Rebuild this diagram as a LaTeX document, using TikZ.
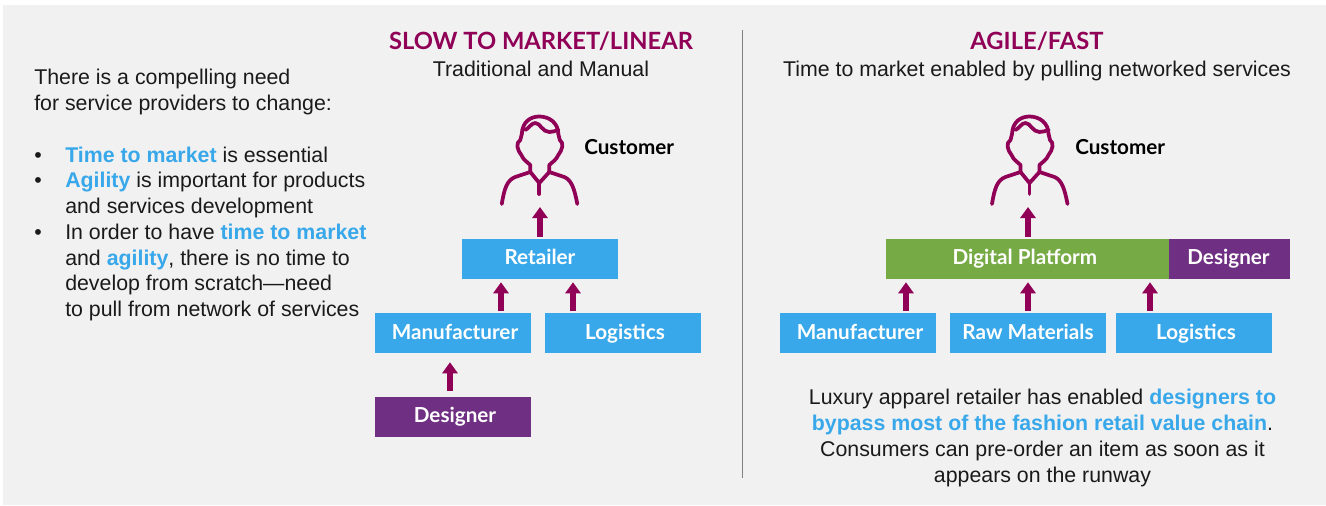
\documentclass[tikz,border=0pt]{standalone}
\usepackage{fontspec}
\setmainfont{Liberation Sans}
\newfontfamily\headfont{Lato}
\usetikzlibrary{arrows.meta,positioning}
\definecolor{panelgray}{HTML}{F1F1F1}
\definecolor{skyblue}{HTML}{38A8EA}
\definecolor{plum}{HTML}{6F2F82}
\definecolor{leafgreen}{HTML}{76AA45}
\definecolor{wine}{HTML}{8F0056}
\definecolor{bodygray}{HTML}{1A1A1A}
\newcommand{\hl}[1]{{\bfseries\color{skyblue}#1}}
\tikzset{
  box/.style={rectangle,minimum width=117pt,minimum height=30pt,inner sep=0pt,text=white,text height=11pt,text depth=3pt,font=\headfont\bfseries\fontsize{15.5}{17}\selectfont},
  bluebox/.style={box,fill=skyblue},
  lowbox/.style={bluebox,text height=12.5pt},
  plumbox/.style={box,fill=plum},
  up/.style={-{Triangle[length=8.25pt,width=11.25pt]},line width=4.5pt,wine,shorten <=1.5pt,shorten >=2.25pt},
  title/.style={inner sep=0pt,text=wine,font=\headfont\bfseries\fontsize{17.8}{20}\selectfont},
  body/.style={inner sep=0pt,text=bodygray,font=\fontsize{16}{19.4}\selectfont},
  who/.style={inner sep=0pt,font=\headfont\bfseries\fontsize{15.5}{17}\selectfont},
  person/.pic={
    \begin{scope}[wine,line width=2.8pt,line cap=round,line join=round]
      \draw (-17.5,34) .. controls (-17,22) and (-9,16.5) .. (0,16.5) .. controls (10,16.5) and (19,23) .. (19,34);
      \draw (-14,30) .. controls (-10,28) and (-8,23) .. (-4,23) .. controls (1,23) and (3,32) .. (10,32) .. controls (13,32) and (16,31) .. (19,30);
      \draw (-17.5,34) -- (-19,40) .. controls (-24,43) and (-22,50) .. (-18,55) .. controls (-16,60) and (-12,62) .. (-9,65) -- (-9,72) -- (-24,77) .. controls (-32,80) and (-35,88) .. (-37.5,104);
      \draw (19,34) -- (20.5,40) .. controls (25,43) and (23,50) .. (19,55) .. controls (17,60) and (13,62) .. (10,65) -- (10,72) -- (25,77) .. controls (32,80) and (35,88) .. (38,104);
      \draw (-9,72) -- (0,83) -- (10,72);
      \draw (0,83) -- (0,94);
    \end{scope}
  },
}
\begin{document}
\begin{tikzpicture}[x=0.75pt,y=-0.75pt]
  \useasboundingbox (0,0) rectangle (1326,506);
  \fill[panelgray] (3,5) rectangle (1326,505);
  % left text
  \node[body,align=left,anchor=north west] (intro) at (34,69) {There is a compelling need\\for service providers to change:};
  \node[body,anchor=base west] (dota) at (34,162.5) {•};
  \node[body,anchor=base west] (dotb) at (34,187.5) {•};
  \node[body,anchor=base west] (dotc) at (34,239) {•};
  \node[body,anchor=base west] (pta) at (65,162.5) {\hl{Time to market} is essential};
  \node[body,align=left,anchor=north west] (ptb) at (65,172) {\hl{Agility} is important for products\\and services development};
  \node[body,align=left,anchor=north west] (ptc) at (65,223.5) {In order to have \hl{time to market}\\and \hl{agility}, there is no time to\\develop from scratch—need\\to pull from network of services};
  % left column
  \node[title] (slow) at (541,41) {SLOW TO MARKET/LINEAR};
  \node[body,anchor=base] (trad) at (541,77) {Traditional and Manual};
  \pic (custa) at (539.3,100) {person};
  \node[who,anchor=west] (cna) at (584,147) {Customer};
  \node[bluebox] (ret) at (540,259) {Retailer};
  \node[lowbox] (man) at (453,333) {\kern3pt Manufacturer};
  \node[lowbox] (loga) at (623,333) {\kern3pt Logistics};
  \node[plumbox] (desa) at (453,417) {\kern3pt Designer};
  \coordinate (custafoot) at (540,204);
  \coordinate (manx) at (501,0);
  \coordinate (logx) at (573,0);
  \coordinate (desx) at (450,0);
  \draw[up] (ret.north) -- (custafoot);
  \draw[up] (man.north -| manx) -- (ret.south -| manx);
  \draw[up] (loga.north -| logx) -- (ret.south -| logx);
  \draw[up,shorten <=4.5pt,shorten >=6.75pt] (desa.north -| desx) -- (man.south -| desx);
  % divider
  \coordinate (divt) at (742,30);
  \coordinate (divb) at (742,478);
  \draw[gray,line width=0.75pt] (divt) -- (divb);
  % right column
  \node[title] (agile) at (1037,41) {AGILE/FAST};
  \node[body,anchor=base] (ttm) at (1037,77) {Time to market enabled by pulling networked services};
  \pic (custb) at (1029.5,100) {person};
  \node[who,anchor=west] (cnb) at (1075,147) {Customer};
  \node[box,fill=leafgreen,minimum width=212.25pt] (plat) at (1027.5,259) {Digital Platform\kern4pt};
  \node[plumbox,minimum width=90.75pt] (desc) at (1229.5,259) {Designer\kern1.5pt};
  \node[lowbox] (manb) at (858,333) {\kern3pt Manufacturer};
  \node[lowbox] (raw) at (1028,333) {Raw Materials};
  \node[lowbox] (logc) at (1194,333) {\kern3pt Logistics};
  \coordinate (custbfoot) at (1028,204);
  \coordinate (manbx) at (906,0);
  \coordinate (rawx) at (1028,0);
  \coordinate (logcx) at (1150,0);
  \draw[up] (plat.north -| rawx) -- (custbfoot);
  \draw[up] (manb.north -| manbx) -- (plat.south -| manbx);
  \draw[up] (raw.north -| rawx) -- (plat.south -| rawx);
  \draw[up] (logc.north -| logcx) -- (plat.south -| logcx);
  \node[body,align=center,anchor=north] (lux) at (1042.5,389) {Luxury apparel retailer has enabled \hl{designers to}\\\hl{bypass most of the fashion retail value chain}.\\Consumers can pre-order an item as soon as it\\appears on the runway};
\end{tikzpicture}
\end{document}
